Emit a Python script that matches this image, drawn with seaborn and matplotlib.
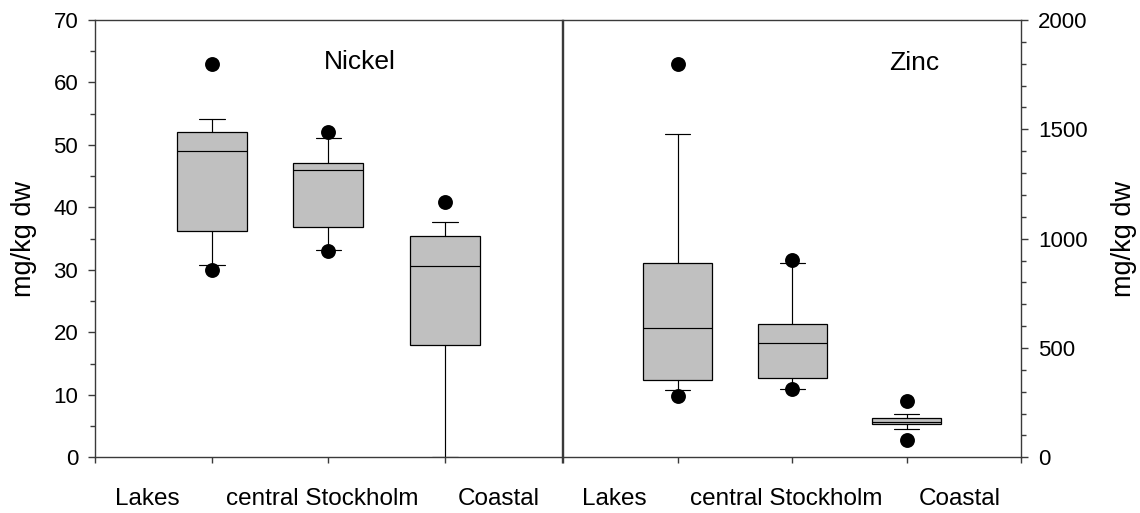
import matplotlib
matplotlib.use("Agg")
import matplotlib.pyplot as plt
import matplotlib.transforms as mtransforms
from matplotlib.ticker import MultipleLocator
import seaborn as sns

# Sampling areas
sites = ["Lakes", "central Stockholm", "Coastal"]

# Nickel, mg/kg dw: 10th, 25th, 50th, 75th, 90th percentiles per site
ni_p10 = [30.8, 33.2, 0.0]
ni_q1 = [36.3, 36.8, 17.9]
ni_med = [49.0, 46.0, 30.7]
ni_q3 = [52.0, 47.1, 35.4]
ni_p90 = [54.2, 51.1, 37.6]
# Nickel values outside the 10th-90th percentile range
ni_out_site = ["Lakes", "Lakes", "central Stockholm", "central Stockholm", "Coastal"]
ni_out_val = [63.0, 30.0, 52.1, 33.0, 40.9]

# Zinc, mg/kg dw
zn_p10 = [306, 313, 129]
zn_q1 = [353, 362, 151]
zn_med = [592, 522, 161]
zn_q3 = [889, 610, 178]
zn_p90 = [1479, 887, 196]
zn_out_site = ["Lakes", "Lakes", "central Stockholm", "central Stockholm",
               "Coastal", "Coastal"]
zn_out_val = [1799, 282, 903, 312, 257, 79]

sns.set_theme(style="ticks")
plt.rcParams["font.family"] = ["Liberation Sans", "DejaVu Sans"]
plt.rcParams["text.color"] = "black"

SPINE = "#3a3a3a"
BOX_FILL = "#c0c0c0"
TICK_FS = 16
CAT_FS = 17.5
TITLE_FS = 19
YLAB_FS = 19.5

fig = plt.figure(figsize=(11.4, 5.13), dpi=100)
ax1 = fig.add_axes([0.0835, 0.1086, 0.4091, 0.8524])
ax2 = fig.add_axes([0.4939, 0.1086, 0.4020, 0.8524])

label_x = [0.45, 1.95, 3.46]


def draw_panel(ax, p10, q1, med, q3, p90, out_site, out_val):
    stats = [dict(whislo=a, q1=b, med=c, q3=d, whishi=e, fliers=[])
             for a, b, c, d, e in zip(p10, q1, med, q3, p90)]
    positions = list(range(1, len(sites) + 1))
    line = dict(color="black", linewidth=0.85)
    ax.bxp(stats, positions=positions, widths=0.6, capwidths=0.22,
           patch_artist=True, showfliers=False, manage_ticks=False,
           boxprops=dict(facecolor=BOX_FILL, edgecolor="black", linewidth=0.9),
           medianprops=line, whiskerprops=line, capprops=line)
    out_pos = [sites.index(s) + 1 for s in out_site]
    sns.scatterplot(x=out_pos, y=out_val, ax=ax, color="black", s=115,
                    linewidth=0, legend=False, zorder=4)

    ax.set_xlim(0, 4)
    ax.set_xticks(range(0, 5))
    ax.set_xticklabels([])
    trans = mtransforms.blended_transform_factory(ax.transData, ax.transAxes)
    for x, name in zip(label_x, sites):
        ax.text(x, -0.109, name, transform=trans, ha="center", va="baseline",
                fontsize=CAT_FS, color="black")
    for sp in ax.spines.values():
        sp.set_visible(True)
        sp.set_color(SPINE)
        sp.set_linewidth(1.0)
    ax.tick_params(axis="x", direction="out", length=4.5, width=1.0,
                   color=SPINE, top=False)
    ax.tick_params(axis="y", which="major", direction="out", length=5,
                   width=1.0, color=SPINE, labelsize=TICK_FS,
                   labelcolor="black", pad=7.2)
    ax.tick_params(axis="y", which="minor", direction="out", length=3.8,
                   width=1.0, color=SPINE)
    ax.set_xlabel("")
    ax.set_ylabel("")


draw_panel(ax1, ni_p10, ni_q1, ni_med, ni_q3, ni_p90, ni_out_site, ni_out_val)
ax1.set_ylim(0, 70)
ax1.yaxis.set_major_locator(MultipleLocator(10))
ax1.yaxis.set_minor_locator(MultipleLocator(5))
ax1.tick_params(axis="y", which="both", left=True, right=False)
ax1.text(2.27, 62.1, "Nickel", ha="center", va="baseline", fontsize=TITLE_FS)
ax1.text(-0.1527, 0.5, "mg/kg dw", transform=ax1.transAxes, rotation=90,
         ha="center", va="center", fontsize=YLAB_FS)

draw_panel(ax2, zn_p10, zn_q1, zn_med, zn_q3, zn_p90, zn_out_site, zn_out_val)
ax2.set_ylim(0, 2000)
ax2.yaxis.set_major_locator(MultipleLocator(500))
ax2.yaxis.set_minor_locator(MultipleLocator(100))
ax2.yaxis.tick_right()
ax2.tick_params(axis="y", which="both", left=False, right=True,
                labelleft=False, labelright=True)
ax2.text(3.066, 1773, "Zinc", ha="center", va="baseline", fontsize=TITLE_FS)
ax2.text(1.2241, 0.5, "mg/kg dw", transform=ax2.transAxes, rotation=90,
         ha="center", va="center", fontsize=YLAB_FS)

fig.savefig("out.png", dpi=100)
